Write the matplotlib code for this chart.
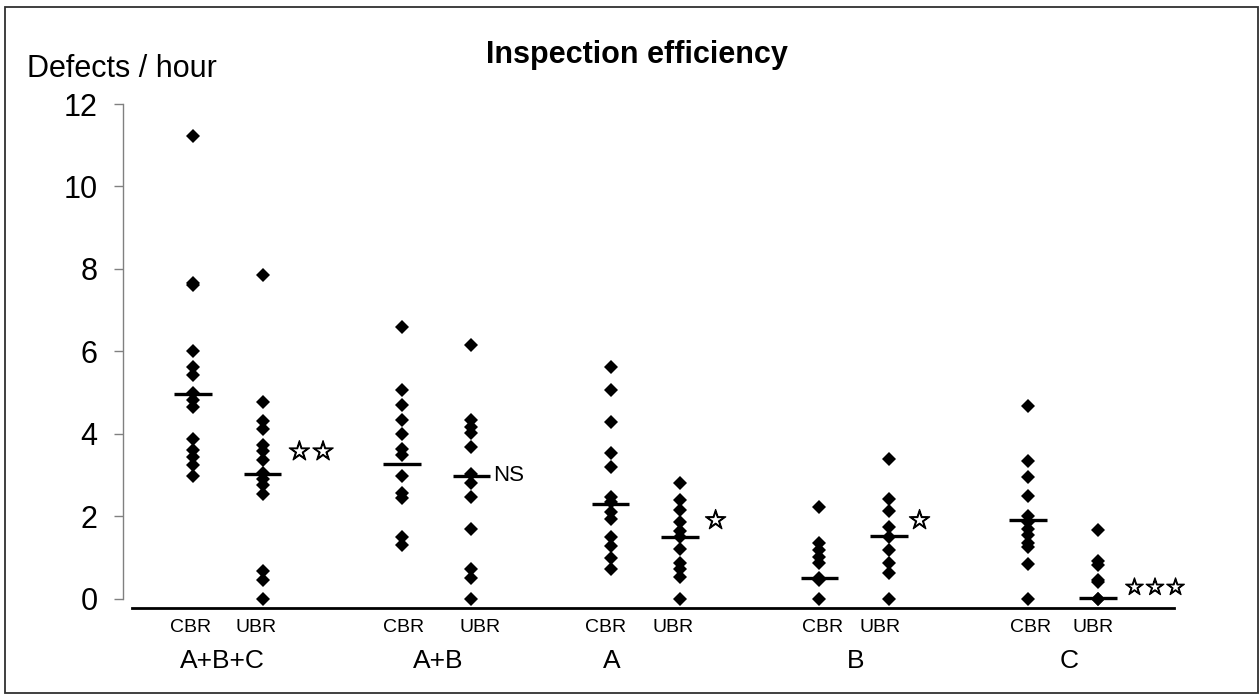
import numpy as np
import matplotlib
matplotlib.use('Agg')
from matplotlib import pyplot as plt
from matplotlib.patches import Rectangle
import matplotlib.patheffects as pe

groups = ['A+B+C', 'A+B', 'A', 'B', 'C']
reviews = ['CBR', 'UBR']

# defects / hour per inspector
cbr_abc = [11.22, 7.65, 7.6, 6.0, 5.63, 5.43, 5.0, 4.82, 4.66, 3.87, 3.6, 3.44, 3.24, 2.98]
ubr_abc = [7.85, 4.76, 4.31, 4.11, 3.74, 3.58, 3.37, 3.05, 2.9, 2.76, 2.55, 0.66, 0.46, 0.0]
cbr_ab = [6.6, 5.06, 4.70, 4.33, 3.99, 3.62, 3.49, 2.98, 2.56, 2.45, 1.5, 1.3]
ubr_ab = [6.15, 4.33, 4.17, 4.01, 3.69, 3.02, 2.8, 2.47, 1.68, 0.71, 0.49, 0.0]
cbr_a = [5.61, 5.06, 4.29, 3.53, 3.19, 2.47, 2.35, 2.11, 1.93, 1.5, 1.28, 0.98, 0.71]
ubr_a = [2.80, 2.39, 2.15, 1.87, 1.63, 1.5, 1.2, 0.86, 0.71, 0.53, 0.0]
cbr_b = [2.22, 1.36, 1.18, 1.02, 0.86, 0.5, 0.45, 0.0]
ubr_b = [3.38, 2.43, 2.13, 1.75, 1.5, 1.18, 0.87, 0.62, 0.0]
cbr_c = [4.67, 3.34, 2.94, 2.5, 2.0, 1.85, 1.7, 1.55, 1.34, 1.26, 0.83, 0.0]
ubr_c = [1.67, 0.92, 0.82, 0.45, 0.4, 0.0, 0.0]

series = [[cbr_abc, ubr_abc], [cbr_ab, ubr_ab], [cbr_a, ubr_a], [cbr_b, ubr_b], [cbr_c, ubr_c]]
medians = [[4.96, 3.02], [3.26, 2.98], [2.30, 1.50], [0.49, 1.52], [1.91, 0.02]]
signif = ['☆☆', 'NS', '☆', '☆', '☆☆☆']
signif_y = [3.54, 2.98, 1.87, 1.87, 0.26]

# layout tweaks
signif_x = [1.36, 4.31, 7.34, 10.27, 13.38]
signif_size = [19, 16, 19, 19, 16.5]
group_label_dx = [-0.07, 0.03, -0.48, 0.02, 0.09]
sub_label_dx = [[-0.03, -0.09], [0.03, 0.13], [-0.07, -0.1], [0.04, -0.13], [0.04, -0.07]]

font = ['Liberation Sans', 'DejaVu Sans']
plt.rcParams['font.family'] = font

fig = plt.figure(figsize=(12.6, 6.94), dpi=100)
ax = fig.add_axes([123.3 / 1260, (694 - 608.3) / 694, (1175 - 123.3) / 1260, (608.3 - 104) / 694])

star_fx = [pe.withStroke(linewidth=0.9, foreground='black')]

for gi, pair in enumerate(series):
    for ri, vals in enumerate(pair):
        x = gi * 3 + ri
        ax.plot(np.full(len(vals), x), vals, 'D', color='black', ms=7.2, mew=0, clip_on=False, zorder=3)
        m = medians[gi][ri]
        ax.plot([x - 0.27, x + 0.27], [m, m], color='black', lw=2.4, solid_capstyle='butt', zorder=4)
        ax.text(x + sub_label_dx[gi][ri], -0.69, reviews[ri], ha='center', va='center', fontsize=14)
    ax.text(gi * 3 + 0.5 + group_label_dx[gi], -1.5, groups[gi], ha='center', va='center', fontsize=19)
    if signif[gi] == 'NS':
        ax.text(signif_x[gi], signif_y[gi], signif[gi], ha='left', va='center', fontsize=signif_size[gi])
    else:
        ax.text(signif_x[gi], signif_y[gi], signif[gi], ha='left', va='center', fontsize=signif_size[gi],
                family=['DejaVu Sans'], path_effects=star_fx)

ax.set_xlim(-1.0, 14.11)
ax.set_ylim(-0.233, 12)
ax.set_yticks(np.arange(0, 13, 2))
ax.set_xticks([])
ax.tick_params(axis='y', length=6.5, width=1, color='#808080', pad=12, labelsize=22)
for side in ['top', 'right']:
    ax.spines[side].set_visible(False)
ax.spines['left'].set_bounds(0, 12)
ax.spines['left'].set_color('#808080')
ax.spines['left'].set_linewidth(1)
ax.spines['bottom'].set_bounds(-0.88, 14.1)
ax.spines['bottom'].set_linewidth(2)
ax.spines['bottom'].set_color('black')

fig.text(637 / 1260, 1 - 55 / 694, 'Inspection efficiency', ha='center', va='center',
         fontsize=22, fontweight='bold')
fig.text(27 / 1260, 1 - 69 / 694, 'Defects / hour', ha='left', va='center', fontsize=22)

fig.patches.append(Rectangle((5 / 1260, 1 / 694), 1253 / 1260, 686 / 694, transform=fig.transFigure,
                             fill=False, edgecolor='#303030', lw=1.3))

plt.savefig('out.png')
